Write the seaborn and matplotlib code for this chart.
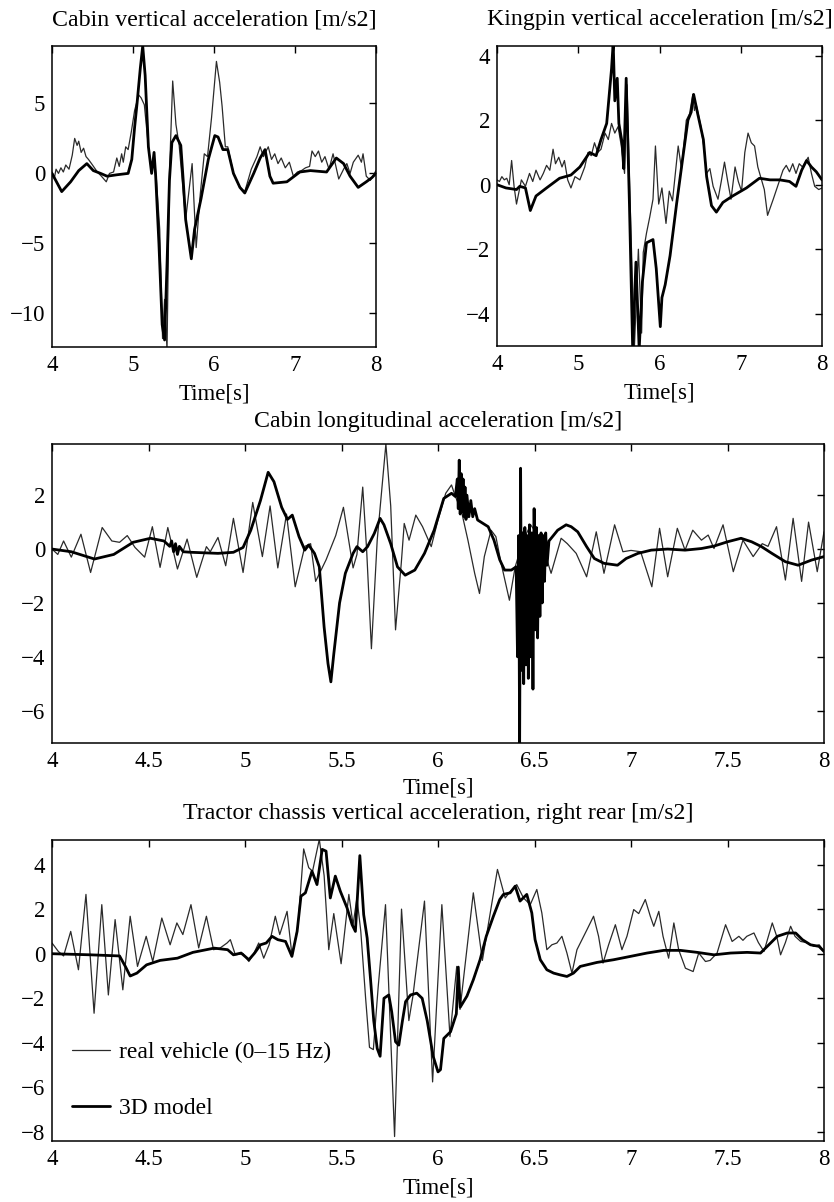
import matplotlib
matplotlib.use("Agg")
import matplotlib.pyplot as plt
import seaborn as sns
from matplotlib.lines import Line2D
from matplotlib.ticker import FuncFormatter

# ---------------- data ----------------
titles = ["Cabin vertical acceleration [m/s2]",
          "Kingpin vertical acceleration [m/s2]",
          "Cabin longitudinal acceleration [m/s2]",
          "Tractor chassis vertical acceleration, right rear [m/s2]"]
xlabel_text = "Time[s]"
legend_labels = ["real vehicle (0\u201315 Hz)", "3D model"]

# Panel 1: cabin vertical
cv_real_t = [4.00, 4.03, 4.05, 4.08, 4.11, 4.14, 4.17, 4.21, 4.25, 4.28, 4.31, 4.33, 4.36, 4.39, 4.42, 4.45,
             4.50, 4.56, 4.61, 4.67, 4.71, 4.76, 4.80, 4.83, 4.86, 4.88, 4.91, 4.94, 4.98, 5.02, 5.07, 5.10,
             5.14, 5.19, 5.23, 5.26, 5.29, 5.33, 5.365, 5.39, 5.42, 5.45, 5.49, 5.53, 5.57, 5.65, 5.73, 5.78,
             5.83, 5.88, 5.92, 5.97, 6.03, 6.07, 6.10, 6.14, 6.17, 6.24, 6.32, 6.38, 6.46, 6.53, 6.57, 6.61,
             6.67, 6.71, 6.75, 6.79, 6.83, 6.88, 6.93, 6.98, 7.03, 7.08, 7.13, 7.18, 7.21, 7.25, 7.29, 7.33,
             7.37, 7.42, 7.47, 7.54, 7.60, 7.64, 7.68, 7.72, 7.78, 7.82, 7.84, 7.88, 7.93, 8.00]
cv_real_v = [0.1, -0.3, 0.3, 0.0, 0.4, 0.1, 0.6, 0.3, 1.3, 2.5, 2.0, 2.3, 1.5, 1.8, 1.2, 1.0,
             0.6, 0.1, -0.2, -0.6, 0.0, 0.1, 1.1, 0.5, 1.4, 0.8, 1.9, 1.7, 3.0, 4.5, 5.6, 5.4,
             4.9, 1.9, 0.2, 1.3, -0.5, -4.0, -11.8, -9.0, -12.6, 0.0, 6.6, 3.5, 2.0, -3.3, 0.7, -5.3,
             -1.5, 1.4, 1.2, 4.0, 8.0, 6.5, 4.8, 1.9, 1.9, 0.0, -1.0, -1.3, 0.3, 1.2, 1.9, 1.2,
             1.9, 1.0, 1.4, 0.7, 1.1, 0.4, 0.8, -0.2, 0.1, 0.2, 0.4, 0.5, 1.6, 1.2, 1.6, 0.8,
             1.2, 0.3, 1.4, -0.4, 0.3, 0.7, 0.0, 0.8, 1.3, 0.8, 1.4, -0.2, -0.5, 0.2]
cv_model_t = [4.00, 4.12, 4.23, 4.33, 4.43, 4.51, 4.60, 4.68, 4.80, 4.94, 4.985, 5.02, 5.05, 5.09, 5.12,
              5.15, 5.19, 5.23, 5.26, 5.28, 5.32, 5.36, 5.39, 5.42, 5.45, 5.48, 5.53, 5.59, 5.62, 5.65,
              5.72, 5.76, 5.84, 5.93, 6.01, 6.05, 6.11, 6.17, 6.24, 6.32, 6.38, 6.49, 6.57, 6.63, 6.69,
              6.73, 6.90, 7.06, 7.19, 7.39, 7.51, 7.60, 7.68, 7.78, 7.88, 7.95, 8.00]
cv_model_v = [0.0, -1.3, -0.6, 0.2, 0.7, 0.2, 0.0, -0.2, -0.1, 0.0, 1.0, 3.3, 5.0, 7.5, 9.1,
              7.0, 1.9, 0.0, 1.5, -0.2, -5.0, -10.8, -11.9, -6.5, -0.5, 2.2, 2.7, 2.0, -0.5, -3.3,
              -6.1, -4.0, -1.8, 1.0, 2.7, 2.6, 1.7, 1.7, 0.0, -1.0, -1.4, 0.0, 1.1, 1.7, -0.2,
              -0.7, -0.6, 0.1, 0.2, 0.1, 1.1, 0.7, -0.2, -1.0, -0.6, -0.3, 0.0]

# Panel 2: kingpin vertical
kp_real_t = [4.00, 4.03, 4.06, 4.09, 4.12, 4.15, 4.18, 4.21, 4.24, 4.30, 4.35, 4.40, 4.44, 4.48, 4.53, 4.57,
             4.61, 4.65, 4.69, 4.72, 4.76, 4.80, 4.83, 4.87, 4.91, 4.96, 5.02, 5.08, 5.12, 5.16, 5.20, 5.24,
             5.28, 5.33, 5.37, 5.41, 5.45, 5.49, 5.53, 5.57, 5.60, 5.63, 5.69, 5.74, 5.78, 5.80, 5.84, 5.88,
             5.92, 5.95, 5.99, 6.03, 6.08, 6.12, 6.16, 6.23, 6.27, 6.33, 6.37, 6.41, 6.43, 6.45, 6.51, 6.55,
             6.58, 6.62, 6.66, 6.72, 6.76, 6.80, 6.84, 6.88, 6.93, 6.97, 7.01, 7.05, 7.09, 7.13, 7.17, 7.21,
             7.25, 7.29, 7.33, 7.40, 7.46, 7.52, 7.56, 7.60, 7.64, 7.68, 7.72, 7.76, 7.83, 7.87, 7.91, 7.96, 8.00]
kp_real_v = [0.15, 0.1, 0.25, 0.15, 0.2, 0.0, 0.75, -0.05, -0.6, 0.15, -0.05, 0.35, 0.1, 0.45, 0.15, 0.35,
             0.6, 0.45, 1.1, 0.65, 0.85, 0.55, 0.75, 0.15, -0.1, 0.25, 0.15, 0.55, 1.0, 0.9, 1.3, 1.0,
             1.1, 1.6, 1.4, 1.9, 1.6, 1.8, 1.2, 0.35, 3.1, 0.2, -5.1, -2.0, -4.6, -2.1, -1.5, -1.0,
             -0.45, 1.2, -0.6, -0.1, -1.2, -0.2, -0.5, 1.2, 0.5, 2.0, 2.2, 2.8, 2.3, 2.5, 1.8, 1.1,
             0.35, 0.5, -0.05, -0.45, 0.1, 0.7, 0.1, -0.45, 0.55, 0.1, -0.2, 1.0, 1.6, 1.3, 1.2, 0.55,
             0.2, -0.15, -0.95, -0.45, 0.0, 0.45, 0.6, 0.4, 0.65, 0.35, 0.65, 0.55, 0.85, 0.35, -0.05, -0.15, -0.1]
kp_model_t = [4.00, 4.11, 4.24, 4.28, 4.35, 4.41, 4.48, 4.61, 4.77, 4.91, 5.02, 5.14, 5.22, 5.28, 5.35,
              5.41, 5.43, 5.45, 5.48, 5.50, 5.54, 5.56, 5.59, 5.63, 5.67, 5.71, 5.75, 5.79, 5.84, 5.92,
              5.96, 6.01, 6.03, 6.07, 6.13, 6.21, 6.29, 6.35, 6.39, 6.42, 6.47, 6.54, 6.58, 6.64, 6.70,
              6.78, 6.90, 7.07, 7.23, 7.36, 7.48, 7.60, 7.68, 7.75, 7.81, 7.87, 7.93, 8.00]
kp_model_v = [0.0, -0.1, -0.15, -0.05, -0.1, -0.8, -0.35, -0.1, 0.2, 0.3, 0.55, 1.0, 0.9, 1.4, 1.9,
              3.6, 4.4, 2.6, 3.3, 1.9, 1.3, 0.5, 3.3, -0.6, -5.1, -2.4, -5.1, -3.0, -1.8, -1.7,
              -2.6, -4.4, -3.5, -3.1, -2.2, -0.6, 0.9, 2.0, 2.25, 2.8, 2.2, 1.4, 0.25, -0.65, -0.85,
              -0.55, -0.35, -0.1, 0.2, 0.15, 0.15, 0.1, -0.05, 0.45, 0.75, 0.55, 0.4, 0.15]

# Panel 3: cabin longitudinal
cl_real_t = [4.00, 4.03, 4.06, 4.10, 4.15, 4.20, 4.26, 4.31, 4.35, 4.39, 4.43, 4.48, 4.52, 4.56, 4.60, 4.65,
             4.70, 4.75, 4.80, 4.82, 4.86, 4.90, 4.94, 4.99, 5.04, 5.09, 5.13, 5.17, 5.215, 5.26, 5.31, 5.34,
             5.366, 5.42, 5.47, 5.51, 5.56, 5.58, 5.61, 5.63, 5.655, 5.685, 5.73, 5.755, 5.78, 5.81, 5.825, 5.85,
             5.885, 5.92, 5.965, 6.00, 6.04, 6.07, 6.09, 6.12, 6.155, 6.19, 6.215, 6.24, 6.275, 6.30, 6.327, 6.37,
             6.40, 6.44, 6.48, 6.53, 6.586, 6.638, 6.67, 6.716, 6.77, 6.82, 6.86, 6.915, 6.958, 7.00, 7.05, 7.108,
             7.148, 7.19, 7.24, 7.28, 7.32, 7.365, 7.40, 7.43, 7.477, 7.53, 7.58, 7.633, 7.68, 7.71, 7.754, 7.80,
             7.84, 7.884, 7.92, 7.965, 8.00]
cl_real_v = [0.0, -0.2, 0.3, -0.3, 0.55, -0.87, 0.8, 0.3, 0.25, 0.5, 0.06, -0.3, 0.83, -0.68, 0.8, -0.74,
             0.37, -1.05, 0.09, -0.1, 0.43, -0.62, 1.14, -0.87, 1.73, -0.28, 1.6, -0.7, 1.3, -1.4, 0.1, 0.2,
             -1.2, -0.4, 0.5, 1.55, -0.7, -0.2, 2.3, 0.0, -3.7, 0.33, 3.9, 1.6, -3.0, -0.5, 0.95, 0.33,
             1.26, 0.83, 0.09, 1.08, 2.07, 2.38, 1.95, 1.45, 0.33, -0.9, -1.65, -0.28, 0.7, 0.46, -0.53, -1.9,
             -0.66, 0.3, 0.9, 0.4, -0.9, 0.4, 0.2, -0.16, -1.03, 0.64, -0.9, 0.9, -0.1, -0.05, -0.1, -1.4,
             0.77, -1.03, 0.77, -0.04, 0.7, 0.33, 0.52, 0.02, 0.9, -0.84, 0.33, -0.28, 0.2, 0.1, 0.83, -1.15,
             1.14, -1.2, 1.0, -0.84, 0.64]
cl_model_t = [4.00, 4.10, 4.22, 4.32, 4.42, 4.51, 4.58, 4.61, 4.62, 4.63, 4.64, 4.65, 4.66, 4.68, 4.72, 4.86,
              4.94, 4.99, 5.03, 5.08, 5.12, 5.15, 5.19, 5.22, 5.245, 5.28, 5.31, 5.33, 5.36, 5.385, 5.41, 5.43,
              5.445, 5.46, 5.49, 5.52, 5.56, 5.58, 5.61, 5.635, 5.67, 5.70, 5.72, 5.755, 5.79, 5.83, 5.88, 5.93,
              5.98, 6.03, 6.07, 6.09, 6.10, 6.105, 6.11, 6.115, 6.12, 6.125, 6.13, 6.135, 6.14, 6.145, 6.15, 6.16,
              6.17, 6.18, 6.19, 6.205, 6.26, 6.29, 6.32, 6.345, 6.38, 6.405, 6.412, 6.418, 6.423, 6.428, 6.433, 6.438,
              6.444, 6.450, 6.456, 6.462, 6.468, 6.474, 6.480, 6.486, 6.492, 6.498, 6.504, 6.510, 6.516, 6.522, 6.528, 6.534,
              6.540, 6.546, 6.552, 6.558, 6.565, 6.575, 6.62, 6.664, 6.69, 6.724, 6.77, 6.81, 6.86, 6.93, 6.975, 7.036,
              7.105, 7.19, 7.28, 7.365, 7.43, 7.50, 7.57, 7.625, 7.676, 7.73, 7.80, 7.866, 7.935, 8.00]
cl_model_v = [0.0, -0.1, -0.37, -0.2, 0.25, 0.4, 0.3, 0.1, 0.3, -0.1, 0.2, -0.2, 0.1, -0.1, -0.12, -0.16,
              -0.12, 0.06, 0.7, 1.8, 2.85, 2.5, 1.55, 1.1, 1.26, 0.46, -0.04, 0.15, -0.16, -0.66, -2.9, -4.25,
              -4.93, -3.9, -2.0, -0.9, -0.16, 0.09, -0.1, 0.09, 0.58, 1.14, 0.9, 0.2, -0.66, -0.97, -0.78, -0.16,
              0.7, 1.88, 2.07, 1.95, 2.6, 1.5, 3.3, 1.3, 2.8, 1.4, 2.6, 1.2, 2.3, 1.1, 2.0, 1.2,
              1.8, 1.2, 1.5, 1.08, 0.83, 0.33, -0.4, -0.78, -0.78, -0.66, -4.0, 0.5, -7.3, 3.0, -4.5, 0.6,
              -5.0, 0.8, -4.3, 0.5, -4.8, 0.9, -4.0, 0.6, -5.2, 1.5, -3.0, 0.8, -3.3, 0.5, -2.5, 0.6,
              -2.0, 0.5, -1.2, 0.6, -0.6, 0.3, 0.7, 0.9, 0.83, 0.64, 0.09, -0.35, -0.53, -0.6, -0.35, -0.16,
              -0.04, 0.0, -0.04, 0.02, 0.11, 0.27, 0.4, 0.27, 0.09, -0.16, -0.47, -0.6, -0.41, -0.28]

# Panel 4: tractor chassis vertical, right rear
tc_real_t = [4.00, 4.033, 4.06, 4.097, 4.137, 4.176, 4.218, 4.258, 4.292, 4.327, 4.367, 4.405, 4.443, 4.488, 4.522, 4.569,
             4.612, 4.647, 4.678, 4.72, 4.76, 4.80, 4.837, 4.87, 4.907, 4.924, 4.95, 4.99, 5.02, 5.045, 5.071, 5.097,
             5.125, 5.157, 5.18, 5.218, 5.244, 5.275, 5.304, 5.33, 5.35, 5.385, 5.41, 5.434, 5.46, 5.498, 5.538, 5.56,
             5.58, 5.60, 5.625, 5.645, 5.665, 5.69, 5.728, 5.775, 5.811, 5.849, 5.87, 5.93, 5.972, 6.02, 6.062, 6.097,
             6.114, 6.183, 6.23, 6.308, 6.348, 6.375, 6.408, 6.443, 6.478, 6.512, 6.538, 6.564, 6.59, 6.616, 6.642, 6.668,
             6.694, 6.72, 6.746, 6.772, 6.806, 6.832, 6.855, 6.884, 6.919, 6.953, 6.979, 7.014, 7.04, 7.074, 7.10, 7.118,
             7.144, 7.166, 7.195, 7.222, 7.247, 7.282, 7.322, 7.351, 7.386, 7.41, 7.446, 7.49, 7.524, 7.559, 7.58, 7.60,
             7.637, 7.66, 7.689, 7.732, 7.755, 7.775, 7.80, 7.827, 7.85, 7.879, 7.91, 7.948, 7.975, 8.00]
tc_real_v = [0.48, 0.1, -0.1, 1.0, -0.72, 2.66, -2.67, 2.2, -1.85, 1.53, -1.62, 1.68, -0.57, 0.78, -0.35, 1.6,
             0.4, 1.38, 0.86, 2.2, 0.26, 1.68, 0.18, 0.25, 0.48, 0.63, -0.05, 0.0, -0.35, 0.0, 0.48, -0.2,
             0.4, 1.68, 0.86, 1.9, -0.12, 1.3, 4.7, 3.86, 3.7, 5.13, 3.5, 0.18, 1.8, -0.45, 2.66, 1.3,
             2.5, 1.0, -2.0, -4.2, -4.3, -1.5, 2.2, -8.2, 2.0, -3.0, -1.9, 2.36, -5.75, 2.2, -3.72, -0.57,
             -2.5, 2.73, -0.3, 3.78, 2.5, 2.8, 3.1, 2.5, 2.2, 2.88, 1.83, 0.18, 0.4, 0.48, 0.78, 0.03,
             -0.87, 0.18, 0.63, 1.08, 1.68, 0.78, -0.42, 0.4, 1.3, 0.18, 0.78, 1.98, 1.8, 2.43, 1.68, 1.23,
             1.9, 0.78, -0.2, 1.38, 0.18, -0.65, -0.8, 0.03, -0.35, -0.3, 0.03, 1.3, 0.55, 0.78, 0.6, 0.78,
             0.93, 0.5, 0.1, 1.38, 0.78, -0.05, 0.5, 1.23, 0.78, 0.55, 0.5, 0.33, 0.4, 0.1]
tc_model_t = [4.00, 4.20, 4.35, 4.38, 4.405, 4.44, 4.49, 4.56, 4.65, 4.73, 4.84, 4.91, 4.94, 4.98, 5.02, 5.05,
              5.08, 5.11, 5.14, 5.17, 5.21, 5.243, 5.27, 5.29, 5.313, 5.347, 5.373, 5.40, 5.42, 5.442, 5.468, 5.494,
              5.529, 5.555, 5.572, 5.595, 5.615, 5.633, 5.65, 5.667, 5.685, 5.70, 5.72, 5.745, 5.76, 5.78, 5.797, 5.815,
              5.832, 5.858, 5.89, 5.918, 5.944, 5.975, 6.00, 6.013, 6.03, 6.065, 6.095, 6.105, 6.115, 6.15, 6.183, 6.218,
              6.25, 6.287, 6.32, 6.339, 6.374, 6.40, 6.425, 6.46, 6.486, 6.503, 6.53, 6.564, 6.599, 6.633, 6.668, 6.702,
              6.737, 6.824, 6.91, 6.997, 7.083, 7.17, 7.256, 7.343, 7.43, 7.516, 7.602, 7.671, 7.706, 7.758, 7.81, 7.853,
              7.888, 7.93, 7.974, 8.00]
tc_model_v = [0.0, -0.05, -0.1, -0.57, -1.0, -0.87, -0.5, -0.3, -0.2, 0.06, 0.25, 0.18, -0.05, 0.03, -0.27, 0.03,
              0.4, 0.48, 0.78, 0.63, 0.55, -0.12, 1.0, 2.58, 2.73, 3.7, 3.1, 4.68, 4.6, 2.5, 3.48, 2.8,
              2.05, 1.3, 1.0, 4.4, 1.75, 0.7, -1.1, -3.0, -4.25, -4.6, -2.0, -1.85, -2.6, -3.95, -4.1, -3.05,
              -2.15, -1.85, -1.77, -2.0, -3.0, -4.6, -5.3, -5.2, -3.8, -3.5, -2.7, -0.6, -2.4, -1.9, -1.17, -0.27,
              0.78, 1.68, 2.43, 2.66, 2.73, 3.03, 2.36, 2.66, 1.83, 0.63, -0.27, -0.72, -0.87, -0.95, -1.02, -0.87,
              -0.57, -0.39, -0.27, -0.12, 0.03, 0.15, 0.15, 0.06, -0.05, 0.03, 0.06, 0.03, 0.33, 0.78, 0.93, 0.93,
              0.63, 0.4, 0.33, 0.1]

# axis settings
ylims = [(-12.4, 9.1), (-5.0, 4.3), (-7.2, 3.9), (-8.4, 5.1)]
yticks = [[-10, -5, 0, 5], [-4, -2, 0, 2, 4], [-6, -4, -2, 0, 2], [-8, -6, -4, -2, 0, 2, 4]]
xticks_top = [4, 5, 6, 7, 8]
xticks_wide = [4, 4.5, 5, 5.5, 6, 6.5, 7, 7.5, 8]

# ---------------- style ----------------
sns.set_theme(style="white")
plt.rcParams['font.family'] = ['Liberation Serif', 'DejaVu Serif']
plt.rcParams['axes.edgecolor'] = 'black'
plt.rcParams['axes.linewidth'] = 1.1
plt.rcParams['text.color'] = 'black'
plt.rcParams['axes.labelcolor'] = 'black'
plt.rcParams['xtick.color'] = 'black'
plt.rcParams['ytick.color'] = 'black'

THIN_C = '#2a2a2a'
THIN_LW = 0.9
THICK_LW = 2.0
W, H = 834, 1202

fig = plt.figure(figsize=(W / 100, H / 100), dpi=100)
fig.patch.set_facecolor('white')


def px_axes(l, t, r, b):
    return fig.add_axes([l / W, 1 - b / H, (r - l) / W, (b - t) / H])


axes = [px_axes(52, 46, 376, 347), px_axes(497, 46, 822, 346),
        px_axes(52, 444, 824, 743), px_axes(52, 840, 824, 1141)]
series = [(cv_real_t, cv_real_v, cv_model_t, cv_model_v),
          (kp_real_t, kp_real_v, kp_model_t, kp_model_v),
          (cl_real_t, cl_real_v, cl_model_t, cl_model_v),
          (tc_real_t, tc_real_v, tc_model_t, tc_model_v)]
title_pads = [15, 15, 12, 15]
label_pads = [5, 5, 4, 5]
fmt = FuncFormatter(lambda v, p: ('%g' % v).replace('-', '\u2212'))

for i, (ax, (rt, rv, mt, mv)) in enumerate(zip(axes, series)):
    sns.lineplot(x=rt, y=rv, ax=ax, color=THIN_C, linewidth=THIN_LW, estimator=None, sort=False)
    sns.lineplot(x=mt, y=mv, ax=ax, color='black', linewidth=THICK_LW, estimator=None, sort=False)
    ax.set_xlim(4, 8)
    ax.set_ylim(*ylims[i])
    ax.set_xticks(xticks_top if i < 2 else xticks_wide)
    ax.set_yticks(yticks[i])
    ax.xaxis.set_major_formatter(fmt)
    ax.yaxis.set_major_formatter(fmt)
    ax.tick_params(direction='in', top=True, right=True, length=5, width=1,
                   labelsize=16.5, colors='black')
    ax.tick_params(axis='x', pad=6)
    ax.tick_params(axis='y', pad=5)
    ax.set_title(titles[i], fontsize=17.2, pad=title_pads[i])
    ax.set_xlabel(xlabel_text, fontsize=16.5, labelpad=label_pads[i])
    ax.set_ylabel('')
    for s in ax.spines.values():
        s.set_visible(True)
        s.set_color('black')
    ax.set_facecolor('white')

handles = [Line2D([], [], color=THIN_C, linewidth=THIN_LW),
           Line2D([], [], color='black', linewidth=THICK_LW)]
axes[3].legend(handles=handles, labels=legend_labels, loc='upper left',
               bbox_to_anchor=(0.026, 0.33), frameon=False, fontsize=17,
               handlelength=1.6, handletextpad=0.4, labelspacing=1.45,
               borderpad=0, borderaxespad=0)

fig.savefig('out.png', dpi=100, facecolor='white')
